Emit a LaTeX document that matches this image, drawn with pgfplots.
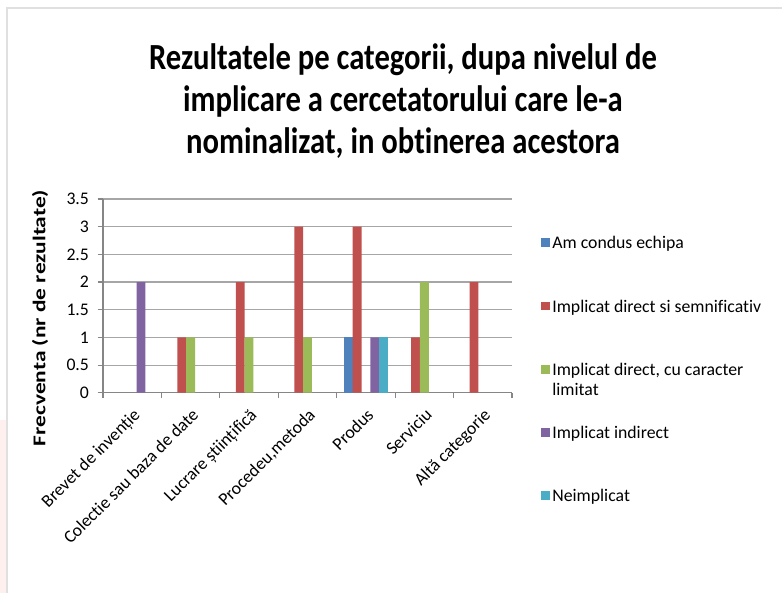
\documentclass[border=0pt]{standalone}
\usepackage{pgfplots}
\pgfplotsset{compat=1.18}
\usepackage{graphicx}
\usepackage{fontspec}
\setmainfont{Carlito}[Ligatures=NoCommon]
\definecolor{cBlue}{HTML}{4F81BD}
\definecolor{cRed}{HTML}{C0504D}
\definecolor{cGreen}{HTML}{9BBB59}
\definecolor{cPurple}{HTML}{8064A2}
\definecolor{cCyan}{HTML}{4BACC6}
\definecolor{gridgray}{HTML}{A6A6A6}
\definecolor{axgray}{HTML}{868686}
\begin{document}
\begin{tikzpicture}
\path[use as bounding box] (0pt,0pt) rectangle (586.5pt,444.75pt);
\fill[white] (0pt,0pt) rectangle (586.5pt,444.75pt);
\fill[red!6] (0pt,0pt) rectangle (5.25pt,129.75pt);
\draw[black!12, line width=0.8pt] (5.25pt,0pt) -- (5.25pt,438.75pt) -- (586.5pt,438.75pt);
% title
\node[anchor=north, align=center, inner sep=0pt, font=\fontsize{23pt}{31.5pt}\selectfont\bfseries]
  at (302.25pt,412pt) {\scalebox{1}[1.2]{Rezultatele pe categorii, dupa nivelul de}\\
  \scalebox{1}[1.2]{implicare a cercetatorului care le-a}\\
  \scalebox{1}[1.2]{nominalizat, in obtinerea acestora}};
% y label
\node[rotate=90, inner sep=0pt, font=\fontsize{13.5pt}{15pt}\selectfont\bfseries] at (30pt,206.25pt) {\scalebox{1.3}[1]{Frecventa (nr de rezultate)}};
\begin{axis}[
  at={(77.25pt,150.2pt)}, anchor=south west,
  scale only axis, width=306.75pt, height=145.3pt,
  ybar=0pt, bar width=6.6pt,
  xmin=-0.5, xmax=6.5, ymin=0, ymax=3.5,
  ytick={0,0.5,...,3.5},
  xtick={-0.5,0.5,1.5,2.5,3.5,4.5,5.5,6.5},
  xticklabels={Brevet de invenție, Colectie sau baza de date, Lucrare științifică, {Procedeu,metoda}, Produs, Serviciu, Altă categorie, {}},
  xticklabel style={xshift=21.9pt, yshift=-2pt, rotate=45, anchor=north east, font=\fontsize{13.3pt}{15pt}\selectfont},
  yticklabel style={xshift=-3pt, font=\fontsize{13.3pt}{15pt}\selectfont},
  /pgf/number format/assume math mode=true,
  ymajorgrids, grid style={gridgray, line width=0.8pt},
  axis line style={axgray, line width=0.8pt},
  axis x line*=bottom, axis y line*=left,
  tick style={axgray, line width=0.8pt},
  tick align=outside, major tick length=4pt,
  legend style={at={(1.07,0.83)}, anchor=north west, draw=none, fill=none,
     font=\fontsize{13.3pt}{15pt}\selectfont, row sep=31.4pt, inner sep=0pt},
  legend cell align=left,
  legend image code/.code={\fill[#1] (0pt,-3.3pt) rectangle (6.6pt,3.3pt);},
]
\addplot[fill=cBlue, draw=none] coordinates {(4,1)};
\addplot[fill=cRed, draw=none] coordinates {(1,1) (2,2) (3,3) (4,3) (5,1) (6,2)};
\addplot[fill=cGreen, draw=none] coordinates {(1,1) (2,1) (3,1) (5,2)};
\addplot[fill=cPurple, draw=none] coordinates {(0,2) (4,1)};
\addplot[fill=cCyan, draw=none] coordinates {(4,1)};
\legend{\strut Am condus echipa, \strut Implicat direct si semnificativ,
  {\strut\smash{\begin{tabular}[t]{@{}l@{}}Implicat direct, cu caracter\\limitat\end{tabular}}},
  \strut Implicat indirect, \strut Neimplicat}
\end{axis}
\end{tikzpicture}
\end{document}
